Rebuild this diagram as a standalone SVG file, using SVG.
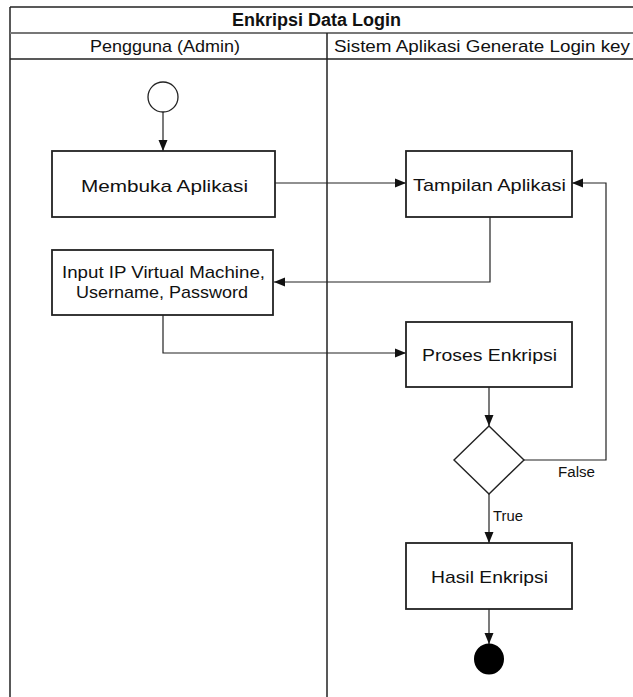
<svg xmlns="http://www.w3.org/2000/svg" width="633" height="697" viewBox="0 0 633 697">
  <style>
    text { font-family: "Liberation Sans", Arial, sans-serif; fill: #111; }
    .title { font-size: 18px; font-weight: bold; }
    .lane { font-size: 17px; }
    .lbl { font-size: 17px; }
    .small { font-size: 14px; }
    .frame { fill: none; stroke: #222; stroke-width: 1.5; }
    .sep { fill: none; stroke: #777; stroke-width: 2; }
    .act { fill: #fff; stroke: #222; stroke-width: 1.8; }
    .edge { fill: none; stroke: #222; stroke-width: 1.2; }
  </style>
  <defs>
    <marker id="arrow" markerWidth="12" markerHeight="10" refX="11" refY="5" orient="auto" markerUnits="userSpaceOnUse">
      <path d="M0,0.5 L11,5 L0,9.5 Z" fill="#111"/>
    </marker>
  </defs>

  <rect width="633" height="697" fill="#fff"/>

  <!-- swimlane frame -->
  <g id="swimlane">
    <line class="frame" x1="10" y1="7" x2="633" y2="7"/>
    <line class="frame" x1="10" y1="7" x2="10" y2="697"/>
    <line class="sep" x1="10" y1="33" x2="633" y2="33"/>
    <line class="frame" x1="10" y1="59" x2="633" y2="59"/>
    <line class="frame" x1="327" y1="33" x2="327" y2="697"/>
    <text class="title" x="232" y="26" textLength="169" lengthAdjust="spacingAndGlyphs">Enkripsi Data Login</text>
    <text class="lane" x="90" y="52" textLength="150" lengthAdjust="spacingAndGlyphs">Pengguna (Admin)</text>
    <text class="lane" x="334" y="52" textLength="296" lengthAdjust="spacingAndGlyphs">Sistem Aplikasi Generate Login key</text>
  </g>

  <!-- connectors -->
  <g id="connectors">
    <line class="edge" x1="163" y1="112" x2="163" y2="151" marker-end="url(#arrow)"/>
    <line class="edge" x1="275" y1="183" x2="406" y2="183" marker-end="url(#arrow)"/>
    <polyline class="edge" points="490,217 490,282 274,282" marker-end="url(#arrow)"/>
    <polyline class="edge" points="163,315 163,353 406,353" marker-end="url(#arrow)"/>
    <line class="edge" x1="489" y1="387" x2="489" y2="426" marker-end="url(#arrow)"/>
    <polyline class="edge" points="524,460 606,460 606,183 572,183" marker-end="url(#arrow)"/>
    <line class="edge" x1="489" y1="494" x2="489" y2="543" marker-end="url(#arrow)"/>
    <line class="edge" x1="489" y1="609" x2="489" y2="644" marker-end="url(#arrow)"/>
    <text class="small" x="558" y="477" textLength="37" lengthAdjust="spacingAndGlyphs">False</text>
    <text class="small" x="493" y="521" textLength="30" lengthAdjust="spacingAndGlyphs">True</text>
  </g>

  <!-- nodes -->
  <g id="start">
    <circle cx="163" cy="97" r="15" fill="#fff" stroke="#222" stroke-width="1.3"/>
  </g>
  <g id="membuka-aplikasi">
    <rect class="act" x="52" y="151" width="223" height="66"/>
    <text class="lbl" x="81" y="192" textLength="167" lengthAdjust="spacingAndGlyphs">Membuka Aplikasi</text>
  </g>
  <g id="tampilan-aplikasi">
    <rect class="act" x="406" y="151" width="166" height="66"/>
    <text class="lbl" x="413" y="191" textLength="153" lengthAdjust="spacingAndGlyphs">Tampilan Aplikasi</text>
  </g>
  <g id="input-data">
    <rect class="act" x="52" y="250" width="221" height="65"/>
    <text class="lbl" x="62" y="278" textLength="203" lengthAdjust="spacingAndGlyphs">Input IP Virtual Machine,</text>
    <text class="lbl" x="76" y="298" textLength="172" lengthAdjust="spacingAndGlyphs">Username, Password</text>
  </g>
  <g id="proses-enkripsi">
    <rect class="act" x="406" y="322" width="166" height="65"/>
    <text class="lbl" x="422" y="361" textLength="135" lengthAdjust="spacingAndGlyphs">Proses Enkripsi</text>
  </g>
  <g id="decision">
    <polygon points="489,426 524,460 489,494 454,460" fill="#fff" stroke="#222" stroke-width="1.4"/>
  </g>
  <g id="hasil-enkripsi">
    <rect class="act" x="406" y="543" width="166" height="66"/>
    <text class="lbl" x="431" y="583" textLength="117" lengthAdjust="spacingAndGlyphs">Hasil Enkripsi</text>
  </g>
  <g id="end">
    <ellipse cx="489" cy="659" rx="15" ry="15.5" fill="#000"/>
  </g>
</svg>
